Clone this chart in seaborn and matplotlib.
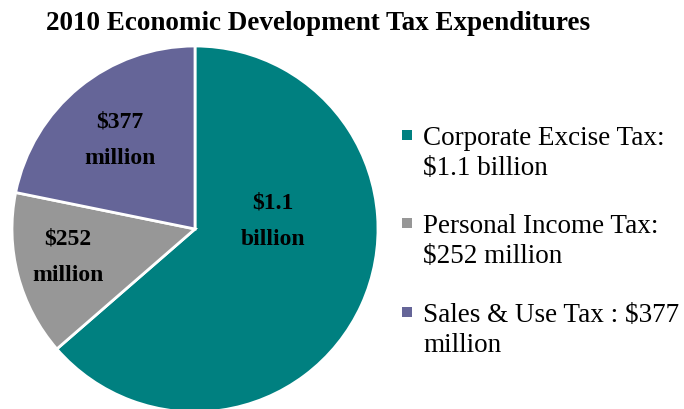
import matplotlib
matplotlib.use("Agg")
import matplotlib.pyplot as plt
from matplotlib.patches import Rectangle
import seaborn as sns

# 2010 economic development tax expenditures (millions of dollars)
categories = ["Corporate Excise Tax", "Personal Income Tax", "Sales & Use Tax"]
values = [1100, 252, 377]
colors = ["#008080", "#979797", "#656598"]
wedge_labels = [["$1.1", "billion"], ["$252", "million"], ["$377", "million"]]
legend_labels = [
    ["Corporate Excise Tax:", "$1.1 billion"],
    ["Personal Income Tax:", "$252 million"],
    ["Sales & Use Tax : $377", "million"],
]
title = "2010 Economic Development Tax Expenditures"

sns.set_theme(style="white")
plt.rcParams["font.family"] = ["Liberation Serif", "DejaVu Serif"]
plt.rcParams["text.parse_math"] = False

W, H = 684, 409
fig = plt.figure(figsize=(W / 100, H / 100), dpi=100)
fig.patch.set_facecolor("white")

# pie axes: square box, radius 183 px, centred at (195, 229) px from top-left
cx, cy, r = 195, 229, 183
ax = fig.add_axes([(cx - r) / W, (H - cy - r) / H, 2 * r / W, 2 * r / H])
wedges, _ = ax.pie(
    values,
    colors=colors,
    startangle=90,
    counterclock=False,
    radius=1.0,
    wedgeprops=dict(edgecolor="white", linewidth=2.0),
)
ax.set_xlim(-1, 1)
ax.set_ylim(-1, 1)
ax.set_axis_off()

# value labels inside the wedges (two lines, baseline positions in data units)
label_pos = [(0.426, 0.110, -0.087), (-0.694, -0.082, -0.284), (-0.41, 0.552, 0.355)]
for lines, (x, y1, y2) in zip(wedge_labels, label_pos):
    ax.text(x, y1, lines[0], ha="center", va="baseline", fontsize=17,
            fontweight="bold", color="black")
    ax.text(x, y2, lines[1], ha="center", va="baseline", fontsize=17,
            fontweight="bold", color="black")

# title
fig.text(318.5 / W, 1 - 30 / H, title, ha="center", va="baseline",
         fontsize=19.5, fontweight="bold", color="black")

# legend: square marker plus two-line label
row_baselines = [145, 233, 322]
for color, lines, yb in zip(colors, legend_labels, row_baselines):
    fig.patches.append(Rectangle((402 / W, 1 - (yb - 5) / H), 10 / W, 10 / H,
                                 transform=fig.transFigure, facecolor=color,
                                 edgecolor="none"))
    fig.text(423 / W, 1 - yb / H, lines[0], ha="left", va="baseline",
             fontsize=19.5, color="black")
    fig.text(423 / W, 1 - (yb + 30) / H, lines[1], ha="left", va="baseline",
             fontsize=19.5, color="black")

fig.savefig("out.png", dpi=100, facecolor="white")
